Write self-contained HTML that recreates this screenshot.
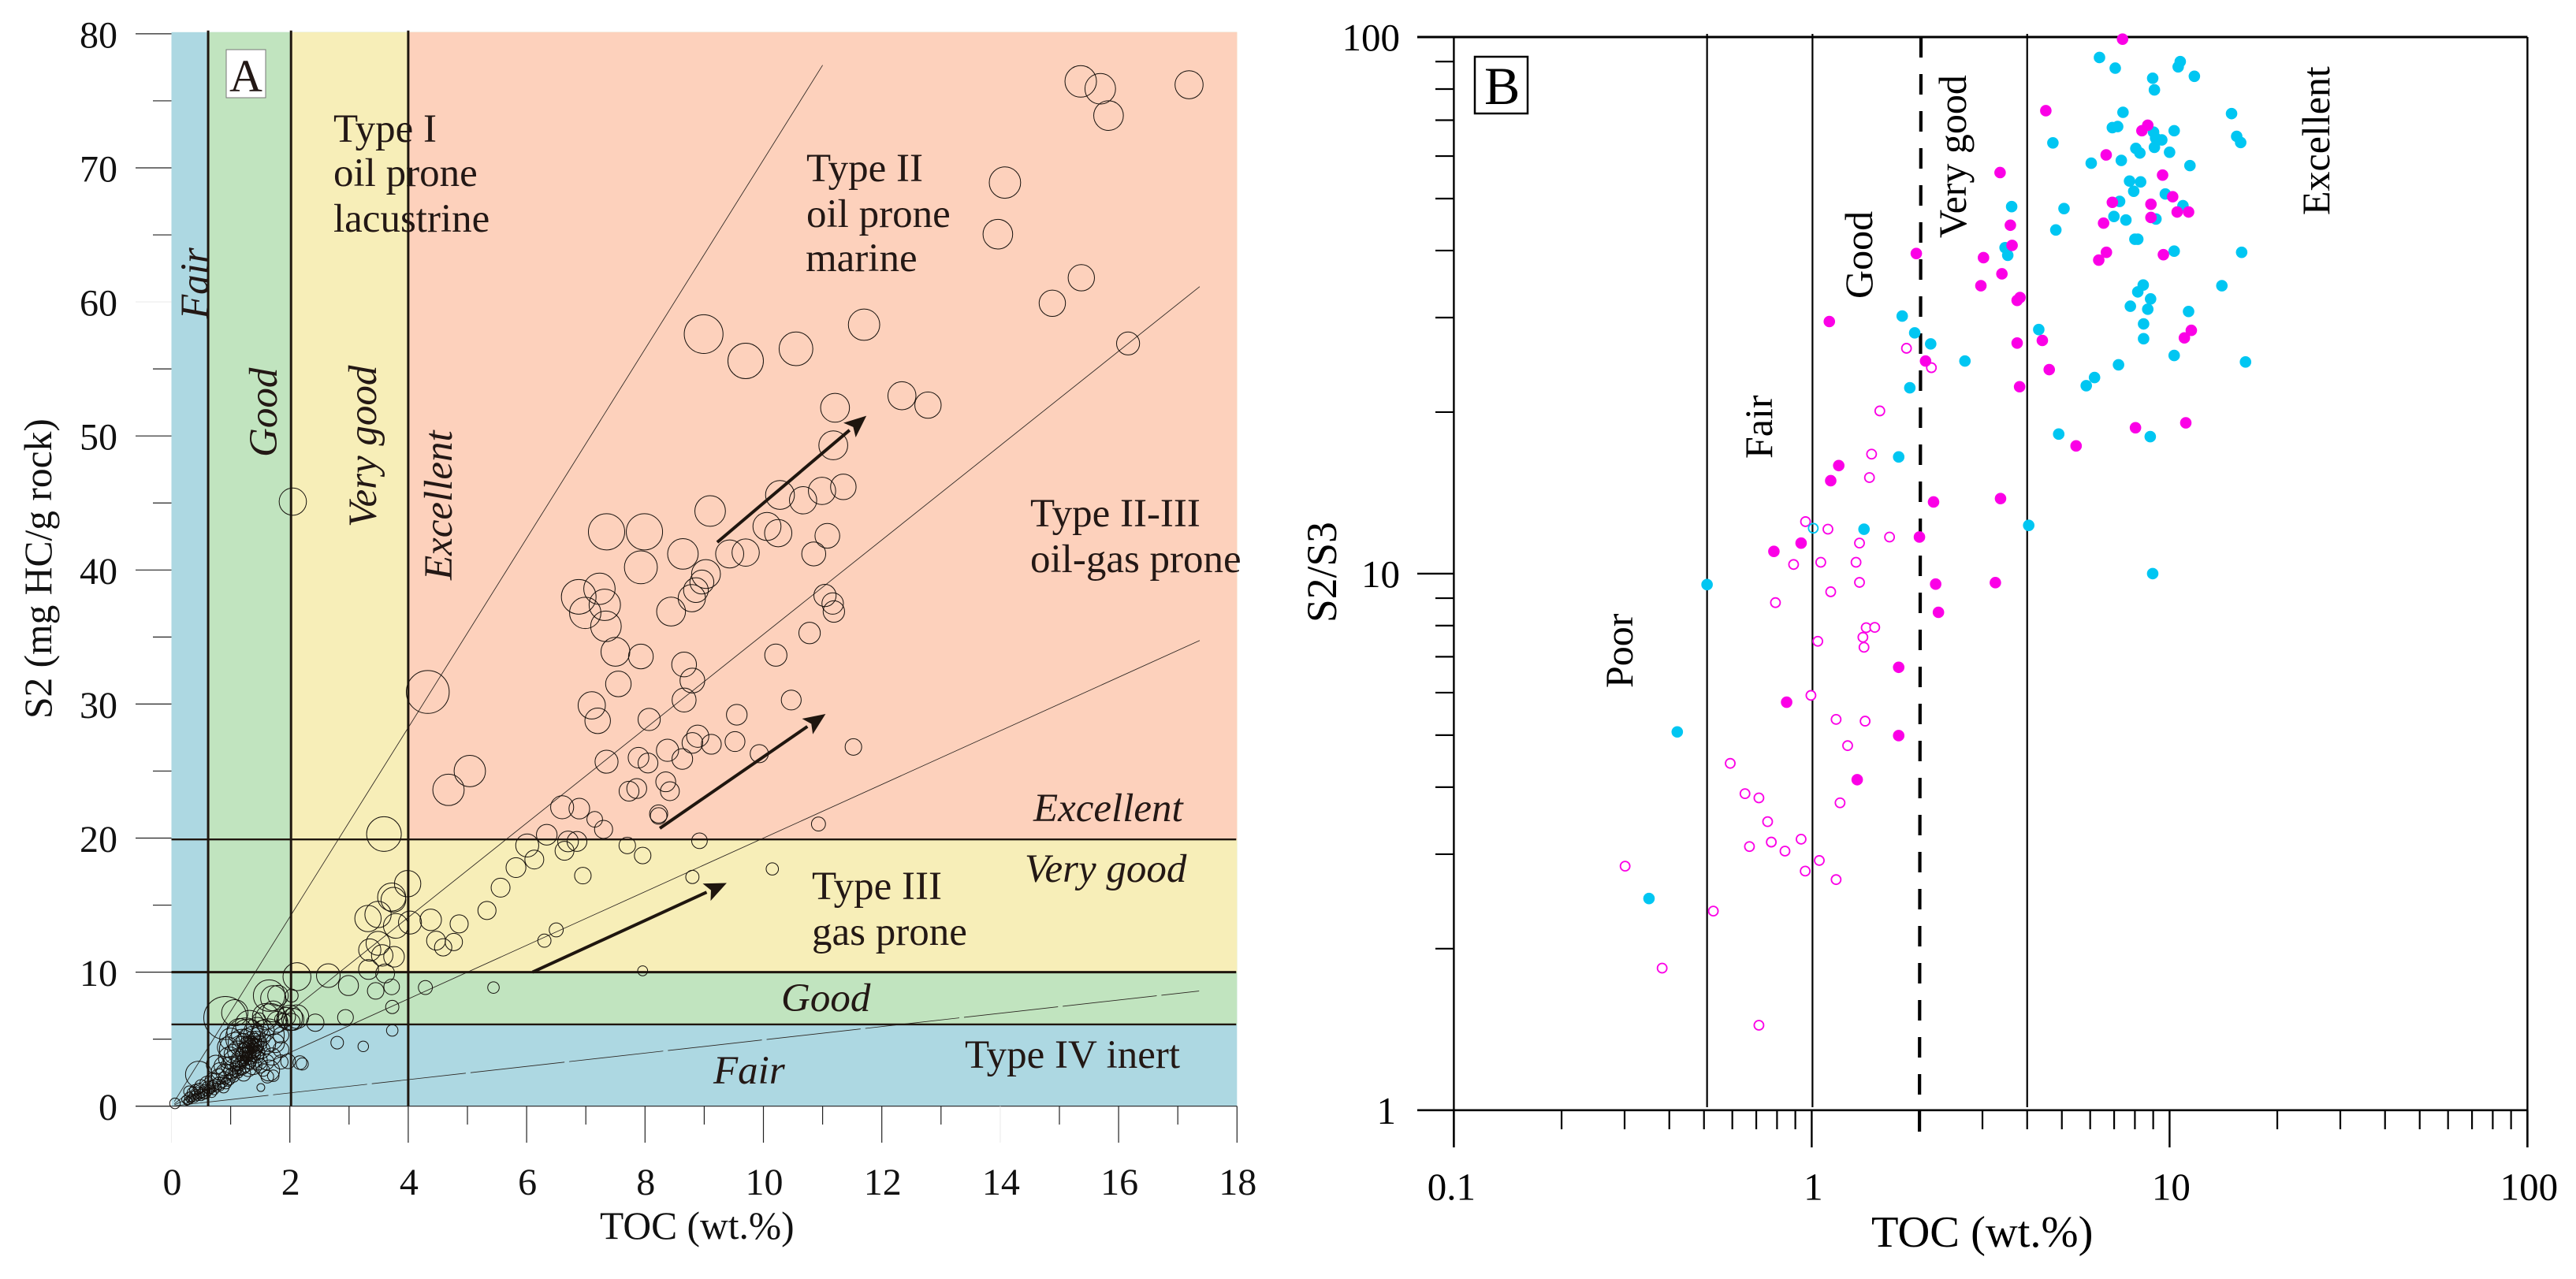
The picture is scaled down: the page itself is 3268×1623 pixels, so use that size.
<!DOCTYPE html>
<html lang="en">
<head>
<meta charset="utf-8">
<title>TOC vs S2 and S2/S3 source rock plots</title>
<style>
html,body{margin:0;padding:0;background:#fff;}
svg{display:block;font-family:"Liberation Serif",serif;}
.ink{fill:#231815;}
.tick{font-size:48px;fill:#111;}
.region{font-size:51px;fill:#231815;}
.ital{font-size:51px;font-style:italic;fill:#231815;}
.blab{font-size:50px;fill:#000;}
</style>
</head>
<body>
<svg id="chart" xmlns="http://www.w3.org/2000/svg" width="3268" height="1623" viewBox="0 0 3268 1623">
  <rect x="0" y="0" width="3268" height="1623" fill="#fff"/>
  <g id="panelA">
    <g id="bandsA"></g>
    <g id="kerogenA"></g>
    <g id="gridA"></g>
    <g id="axisA"></g>
    <g id="circlesA"></g>
    <g id="arrowsA"></g>
    <rect x="287" y="63" width="50" height="61" fill="#fff" stroke="#777" stroke-width="1"/>
    <text x="312" y="116" font-size="58" text-anchor="middle" class="ink">A</text>

    <text x="761" y="1572" font-size="49.5" fill="#111">TOC (wt.%)</text>
    <text transform="translate(65,912) rotate(-90)" font-size="49.5" fill="#111">S2 (mg HC/g rock)</text>

    <text class="region" x="423" y="180">Type I</text>
    <text class="region" x="423" y="236">oil prone</text>
    <text class="region" x="423" y="294">lacustrine</text>
    <text class="region" x="1023" y="230">Type II</text>
    <text class="region" x="1023" y="288">oil prone</text>
    <text class="region" x="1022" y="344">marine</text>
    <text class="region" x="1307" y="668">Type II-III</text>
    <text class="region" x="1307" y="726">oil-gas prone</text>
    <text class="region" x="1030" y="1141">Type III</text>
    <text class="region" x="1030" y="1199">gas prone</text>
    <text class="region" x="1224" y="1355">Type IV inert</text>

    <text class="ital" x="1311" y="1042">Excellent</text>
    <text class="ital" x="1300" y="1119">Very good</text>
    <text class="ital" x="991" y="1283">Good</text>
    <text class="ital" x="905" y="1375">Fair</text>
    <text class="ital" transform="translate(264,405) rotate(-90)">Fair</text>
    <text class="ital" transform="translate(351,580) rotate(-90)">Good</text>
    <text class="ital" transform="translate(477,669) rotate(-90)">Very good</text>
    <text class="ital" transform="translate(573,736) rotate(-90)">Excellent</text>
  </g>

  <g id="panelB">
    <g id="axisB"></g>
    <g id="pointsB"></g>
    <rect x="1871" y="72" width="67" height="72" fill="#fff" stroke="#000" stroke-width="2.5"/>
    <text x="1883" y="132" font-size="68" fill="#000">B</text>
    <text x="2374" y="1582" font-size="56.5" fill="#000">TOC (wt.%)</text>
    <text transform="translate(1695,790) rotate(-90)" font-size="53.5" fill="#000">S2/S3</text>
    <text class="blab" transform="translate(2071,873) rotate(-90)">Poor</text>
    <text class="blab" transform="translate(2248,582) rotate(-90)">Fair</text>
    <text class="blab" transform="translate(2375,379) rotate(-90)">Good</text>
    <text class="blab" transform="translate(2494,302) rotate(-90)">Very good</text>
    <text class="blab" transform="translate(2955,273) rotate(-90)">Excellent</text>
  </g>
</svg>
<script>
/* ---------- Panel A data ---------- */
const tocA = [
15.36,15.69,15.83,17.19,14.08,13.96,15.37,14.88,16.16,8.99,
9.70,10.55,11.70,12.34,12.78,11.21,11.18,9.10,10.28,10.67,
10.99,11.35,10.06,10.25,11.08,10.85,8.64,9.43,9.70,9.03,
8.96,8.86,8.79,8.44,11.04,11.17,11.19,10.78,2.05,7.35,
7.99,7.93,6.88,7.23,7.32,6.99,7.34,4.33,7.50,7.93,
7.55,7.10,7.20,5.04,4.68,8.07,7.35,7.89,8.05,7.73,
7.86,3.59,6.60,6.89,7.15,7.30,6.34,6.01,6.70,6.85,
6.64,6.13,5.82,5.56,5.33,6.95,7.70,7.96,3.99,3.72,
3.75,3.49,3.32,3.79,4.03,4.38,4.86,4.47,4.77,4.59,
3.49,3.35,3.56,3.76,3.33,3.61,3.45,3.72,3.73,3.73,
4.29,5.44,6.50,6.30,7.96,3.24,2.80,2.94,2.43,2.99,
2.65,2.12,0.91,1.07,1.65,1.72,1.80,2.00,2.05,2.12,
2.03,1.94,1.90,1.85,1.79,1.68,1.59,1.72,1.48,1.85,
2.03,2.17,2.21,1.97,1.85,1.72,1.65,1.51,0.46,1.10,
1.19,1.28,1.25,1.37,1.63,1.32,8.66,8.80,8.66,9.55,
10.47,10.21,8.89,8.80,9.12,9.52,9.93,8.38,8.63,8.35,
8.42,8.23,8.23,11.52,10.93,8.92,8.80,10.15,0.06,
1.30,1.35,1.40,1.25,1.32,1.38,1.44,1.28,1.20,1.36,
1.42,1.33,1.26,1.18,1.30,1.22,1.40,1.46,1.34,1.29,
1.24,1.37,1.41,1.48,1.15,1.10,1.20,1.25,1.14,1.08,
1.02,1.12,1.05,0.98,1.00,1.16,1.22,1.30,1.38,1.46,
0.95,0.90,0.92,0.86,0.82,0.88,0.80,0.76,0.74,0.72,
0.70,0.66,0.68,0.64,0.62,0.60,0.58,0.56,0.54,0.52,
0.50,0.48,0.46,0.44,0.42,0.40,0.38,0.36,0.34,0.32,
0.30,0.28,0.26,0.24,0.30,0.40,0.50,0.60,0.70,0.80,
0.90,1.00,1.50,1.60,1.55,1.62,1.70,1.75,1.85,1.45,
1.55,1.15,1.00,0.95,1.05,1.60,1.50,0.75,
1.22,1.27,1.31,1.36,1.39,1.43,1.33,1.26,1.19,1.12,
1.45,1.52,1.12,1.05,0.98,0.88,0.82,1.28,1.35,1.20];
const s2A = [
76.45,75.9,73.9,76.2,68.9,65.05,61.8,59.9,56.9,57.6,
55.6,56.5,58.3,53.0,52.3,52.1,49.3,44.4,45.6,45.2,
45.9,46.2,43.25,42.75,42.55,41.2,41.2,41.2,41.3,39.7,
39.1,38.5,37.9,36.9,38.1,37.5,36.9,35.3,45.1,42.85,
42.85,40.2,38.0,38.6,37.4,36.8,35.8,30.9,33.9,33.55,
31.5,29.9,28.75,25.0,23.6,28.85,25.7,26.0,25.6,23.5,
23.7,20.3,22.3,22.2,21.4,20.65,20.25,19.45,19.75,19.75,
19.05,18.4,17.8,16.3,14.6,17.2,19.45,18.7,16.6,15.6,
15.4,14.3,14.0,13.45,13.7,13.9,13.6,12.35,12.25,11.85,
12.15,11.65,11.25,11.15,10.2,9.9,8.6,8.9,7.4,5.65,
8.85,8.85,13.15,12.35,10.1,4.46,4.74,6.62,6.23,9.0,
9.74,9.66,6.58,6.97,8.25,8.05,8.25,6.58,6.48,6.68,
6.29,6.68,6.38,6.48,6.29,6.48,6.68,7.07,6.48,5.3,
8.25,3.25,3.15,3.35,4.23,2.27,2.66,1.39,2.37,4.23,
4.72,5.3,5.11,4.33,5.3,6.09,32.95,31.75,30.3,29.2,
30.3,33.65,27.6,27.1,27.0,27.2,26.3,26.55,25.9,24.2,
23.5,21.8,21.65,26.8,21.05,19.8,17.1,17.7,0.21,
4.4,4.7,4.9,4.2,3.9,4.1,4.5,4.6,3.9,5.0,
4.2,3.6,3.5,3.3,3.3,3.6,3.8,4.0,4.3,4.0,
4.4,4.5,4.6,4.7,3.1,2.9,2.9,3.0,3.5,2.6,
2.4,2.5,2.2,2.0,2.6,2.7,2.4,2.8,3.0,3.4,
1.9,2.1,1.7,1.8,1.5,1.4,1.7,1.4,1.6,1.2,
1.5,1.3,1.0,1.2,1.4,1.1,0.9,1.2,0.8,1.0,
0.7,0.9,1.3,0.7,0.9,0.6,0.8,1.0,0.6,0.5,
0.7,0.4,0.3,0.5,1.1,1.2,1.5,1.7,1.9,2.2,
2.5,3.0,3.0,3.3,2.7,2.2,3.7,4.7,3.3,5.8,
5.6,5.6,5.0,4.4,3.9,4.6,5.2,3.1,
4.9,5.2,4.8,5.3,4.4,5.0,3.2,3.9,4.5,4.1,
3.7,4.2,3.2,3.4,3.6,3.0,2.6,3.7,3.4,3.4];
const bubbleA = [
20,19.4,18.8,17.8,19.9,18.8,16.7,16.7,14.6,24.6,
22.5,21.4,19.9,17.8,16.7,18.3,18.3,19.4,18.3,17.3,
17.3,16.2,17.8,17.3,15.7,15.2,19.4,17.8,17.3,18.3,
15.2,15.7,17.3,18.3,14.1,13.6,13.6,13.6,17.3,23,
23,20.9,22,19.9,19.9,19.9,19.4,27.2,18.3,15.7,
16.2,17.3,16.2,19.9,19.9,14.1,14.6,13.1,12.6,12.6,
12.6,22,14.6,13.1,9.9,11.5,13.1,14.6,13.1,12.6,
12,12,12.6,12,11.5,10.5,10.5,10.5,16.7,17.8,
15.7,16.7,16.7,15.7,14.6,13.6,11.5,12,11,11,
15.2,14.1,13.6,13.1,12.6,12,10.5,9.9,8.4,7.3,
8.9,7.3,8.9,8.4,6.3,6.7,8,10,11,12.7,
15,17.7,27.3,16.7,20,16,13,16,14,15,
10.7,11.7,9.3,8,13.3,20,16.7,13.3,8.3,10,
8.3,8.7,7.7,9.3,10,7.3,13.3,5,16.7,21.7,
17.3,20,25,12.7,20.7,18,15.7,15.7,15.2,13.1,
12.6,14.1,14.1,13.1,12.6,12.6,11.5,14.1,13.1,12.6,
12,11.5,10.5,10.5,8.9,9.9,8.4,7.8,6.7,
8,9,9,9,8,8,9,10,9,10,
8,8,8,8,9,7,8,9,7,7,
7,7,8,10,8,8,9,8,10,7,
8,7,7,7,9,7,9,10,11,12,
7,8,7,7,6,7,8,6,7,6,
7,6,6,6,8,6,6,7,5,6,
5,6,7,5,6,5,6,7,5,5,
6,5,4,5,7,7,8,9,10,10,
11,12,9,10,8,8,11,12,9,14,
14,16,14,13,12,12,13,12,
9,10,8,11,7,10,7,8,12,13,
8,11,9,13,14,12,11,7,7,7];
const xTicksA = [0,2,4,6,8,10,12,14,16,18];
const xMinorA = [1,3,5,7,9,11,13,15,17];
const yTicksA = [0,10,20,30,40,50,60,70,80];
const yMinorA = [5,15,25,35,45,55,65,75];
const faintTicksA = [60];
const faintXTicksA = [0,14];
const tocClassesA = [0.62,2.02,4.0];
const s2ClassesA = [6.1,10,19.9];
const kerogenSlopesA = [7.06,3.52,2.0,0.495];
const kerogenEndsA = [11.0,17.37,17.37,17.36];
const arrowStartTocA = [9.22,8.25,6.1];
const arrowStartS2A = [42.07,20.73,10.0];
const arrowEndTocA = [11.74,11.05,9.38];
const arrowEndS2A = [51.5,29.26,16.65];

/* ---------- Panel B data ---------- */
const tocCyan = [
6.37,7.05,8.97,9.07,10.57,10.71,11.73,7.41,14.9,15.4,15.8,4.72,6.92,7.16,10.3,9.02,9.14,9.51,9.07,8.05,8.26,10.0,
6.04,7.33,11.4,7.73,8.30,7.94,9.73,7.25,10.9,5.07,6.99,7.55,9.16,4.81,8.0,8.15,10.3,15.9,3.62,3.47,3.53,14.0,
8.44,8.15,8.85,8.69,7.77,11.3,8.46,8.46,4.31,10.3,16.3,2.68,7.20,6.17,5.85,4.90,8.83,4.04,8.97,
1.79,1.94,2.15,1.88,1.75,1.40,0.51,0.421,0.351];
const ratioCyan = [
91.6,87.5,83.8,79.7,88.0,90.0,84.5,72.4,72.0,65.3,63.6,63.5,67.8,68.1,66.9,66.5,64.8,64.3,62.3,62.0,60.8,61.0,
58.2,58.9,57.6,53.9,53.7,51.6,51.0,49.4,48.5,47.9,46.3,45.6,45.8,43.7,42.0,42.0,39.9,39.7,48.3,40.5,39.2,34.4,
34.5,33.5,32.5,31.1,31.5,30.8,29.2,27.4,28.5,25.5,24.8,24.9,24.5,23.2,22.4,18.2,18.0,12.3,10.0,
30.2,28.1,26.8,22.2,16.5,12.1,9.54,5.07,2.48];
const tocMagenta = [
7.39,4.51,8.37,8.69,6.65,3.36,9.56,10.2,6.92,8.87,10.5,11.3,8.87,6.54,3.59,3.63,3.02,3.40,2.97,6.66,6.34,9.61,
3.82,3.75,11.5,11.0,3.75,4.41,4.61,3.81,11.1,8.03,5.48,3.37,2.19,3.26,2.22,2.26,
1.96,1.12,2.08,1.19,1.13,2.00,0.934,0.784,1.75,0.851,1.75,1.34];
const ratioMagenta = [
99.1,72.9,66.9,68.5,60.3,55.9,55.3,50.4,49.2,48.8,47.2,47.2,46.1,45.0,44.6,40.9,38.8,36.2,34.4,39.7,38.4,39.3,
32.7,32.3,28.4,27.5,26.9,27.2,24.0,22.3,19.1,18.7,17.3,13.8,13.6,9.62,9.56,8.47,
39.5,29.5,24.9,15.9,14.9,11.7,11.4,11.0,6.69,5.76,4.99,4.13];
const tocOpen = [
1.84,2.16,1.55,1.47,1.45,0.961,1.11,1.65,1.36,0.890,1.06,1.33,1.36,1.13,0.792,1.42,1.50,1.39,1.04,1.40,
0.995,1.17,1.41,1.26,0.592,0.651,0.712,1.20,0.753,0.771,0.670,0.842,0.934,1.05,0.959,1.17,0.301,0.531,0.382,0.712];
const ratioOpen = [
26.3,24.2,20.1,16.7,15.1,12.5,12.1,11.7,11.4,10.4,10.5,10.5,9.63,9.25,8.83,7.93,7.94,7.61,7.48,7.29,
5.93,5.35,5.31,4.78,4.43,3.89,3.82,3.74,3.45,3.16,3.10,3.04,3.20,2.92,2.79,2.69,2.85,2.35,1.84,1.44];
const tocOpenCyan = [1.01];
const ratioOpenCyan = [12.15];
const xDecadesB = [0.1,1,10,100];
const yDecadesB = [1,10,100];
const minorMultiples = [2,3,4,5,6,7,8,9];
const xTickLabelsB = ["0.1","1","10","100"];
const yTickLabelsB = ["1","10","100"];
const tocClassesB = [0.51,1.005,4.0];

/* ---------- Scales ---------- */
const xA = v => 217.5 + 75.1 * v;
const yA = v => 1403.7 - 17.01 * v;
const rA = v => v;
const xB = v => 2298.4 + 454 * Math.log10(v);
const yB = v => 1408.8 - 680.9 * Math.log10(v);

const NS = 'http://www.w3.org/2000/svg';
function mk(parent, tag, attrs, txt) {
  const el = document.createElementNS(NS, tag);
  for (const k in attrs) el.setAttribute(k, attrs[k]);
  if (txt !== undefined) el.textContent = txt;
  parent.appendChild(el);
  return el;
}
const $ = id => document.getElementById(id);
const INK = '#1f160f';
let el;

/* ---------- Panel A bands ---------- */
const bandColours = ['#add8e2','#c1e4bf','#f7eeb8','#fdd1bc'];
const topA = 40.8, rightA = xA(18);
el = mk($('bandsA'), 'rect', {x:xA(0), y:topA, width:rightA-xA(0), height:yA(0)-topA, fill:bandColours[0]});


tocClassesA.forEach((t, i) => {
  const b = mk($('bandsA'), 'rect', {x:xA(t), y:topA, width:rightA-xA(t), height:yA(s2ClassesA[i])-topA, fill:bandColours[i+1]});
  
  
});

/* ---------- Panel A kerogen lines ---------- */
kerogenSlopesA.forEach((s, i) => {
  const e = kerogenEndsA[i];
  const attrs = {x1:xA(0.05), y1:yA(0.05*s), x2:xA(e), y2:yA(e*s), stroke:'#2a2420', 'stroke-width':0.85, fill:'none'};
  if (i === 3) attrs['stroke-dasharray'] = '120 6';
  const l = mk($('kerogenA'), 'line', attrs);
  
  
});

/* ---------- Panel A threshold lines ---------- */
tocClassesA.forEach((t, i) => {
  const l = mk($('gridA'), 'line', {x1:xA(t), y1:topA-2, x2:xA(t), y2:yA(0), stroke:INK, 'stroke-width':3});
  
  
});
s2ClassesA.forEach((v, i) => {
  const l = mk($('gridA'), 'line', {x1:xA(0), y1:yA(v), x2:rightA-1, y2:yA(v), stroke:INK, 'stroke-width':i === 1 ? 3 : 2.4});
  
  
});

/* ---------- Panel A axes ---------- */
el = mk($('axisA'), 'line', {x1:172, y1:yA(0), x2:rightA, y2:yA(0), stroke:'#222', 'stroke-width':1.2});


yTicksA.forEach(v => {
  const faint = faintTicksA.includes(v);
  const t = mk($('axisA'), 'line', {x1:172, y1:yA(v), x2:xA(0), y2:yA(v), stroke:faint ? '#eeeeee' : '#222', 'stroke-width':1.2});
  
  
  const lab = mk($('axisA'), 'text', {x:149, y:yA(v)+17.5, 'text-anchor':'end', class:'tick'}, String(v));
  
  
});
yMinorA.forEach(v => {
  const t = mk($('axisA'), 'line', {x1:194, y1:yA(v), x2:xA(0), y2:yA(v), stroke:'#222', 'stroke-width':1.2});
  
  
});
xTicksA.forEach(v => {
  const faint = faintXTicksA.includes(v);
  const t = mk($('axisA'), 'line', {x1:xA(v), y1:yA(0), x2:xA(v), y2:1450, stroke:faint ? '#eeeeee' : '#222', 'stroke-width':1.2});
  
  
  const lab = mk($('axisA'), 'text', {x:xA(v)+1, y:1516, 'text-anchor':'middle', class:'tick'}, String(v));
  
  
});
xMinorA.forEach(v => {
  const t = mk($('axisA'), 'line', {x1:xA(v), y1:yA(0), x2:xA(v), y2:1427, stroke:'#222', 'stroke-width':1.2});
  
  
});

/* ---------- Panel A samples ---------- */
tocA.forEach((t, i) => {
  const c = mk($('circlesA'), 'circle', {cx:xA(t), cy:yA(s2A[i]), r:rA(bubbleA[i]), fill:'none', stroke:'#15100c', 'stroke-width':1});
  
  
});

/* ---------- Panel A arrows ---------- */
arrowStartTocA.forEach((t, i) => {
  const x1 = xA(t), y1 = yA(arrowStartS2A[i]), x2 = xA(arrowEndTocA[i]), y2 = yA(arrowEndS2A[i]);
  const len = Math.hypot(x2-x1, y2-y1), ux = (x2-x1)/len, uy = (y2-y1)/len;
  const bx = x2 - ux*28, by = y2 - uy*28;
  const l = mk($('arrowsA'), 'line', {x1:x1, y1:y1, x2:bx, y2:by, stroke:INK, 'stroke-width':4});
  
  
  const pts = [x2+','+y2, (bx-uy*12)+','+(by+ux*12), (x2-ux*22)+','+(y2-uy*22), (bx+uy*12)+','+(by-ux*12)].join(' ');
  const h = mk($('arrowsA'), 'polygon', {points:pts, fill:INK});
  
  
});

/* ---------- Panel B axes ---------- */
const frameB = [
  {x1:1798, y1:yB(100), x2:xB(100), y2:yB(100), w:3, n:'top-frame-b'},
  {x1:1798, y1:yB(1), x2:xB(100), y2:yB(1), w:2.6, n:'x-axis-line-b'},
  {x1:xB(0.1), y1:yB(100), x2:xB(0.1), y2:1456, w:2.4, n:'y-axis-line-b'},
  {x1:xB(100), y1:yB(100), x2:xB(100), y2:1456, w:2.4, n:'right-frame-b'}
];
frameB.forEach(f => {
  const l = mk($('axisB'), 'line', {x1:f.x1, y1:f.y1, x2:f.x2, y2:f.y2, stroke:'#000', 'stroke-width':f.w});
  
  
});
yDecadesB.forEach((v, i) => {
  const t = mk($('axisB'), 'line', {x1:1798, y1:yB(v), x2:xB(0.1), y2:yB(v), stroke:'#000', 'stroke-width':2.4});
  
  
  const lab = mk($('axisB'), 'text', {x:v === 1 ? 1771 : 1776, y:yB(v)+17, 'text-anchor':'end', 'font-size':49, fill:'#000'}, yTickLabelsB[i]);
  
  
  if (v < 100) minorMultiples.forEach(m => {
    const mt = mk($('axisB'), 'line', {x1:1821, y1:yB(v*m), x2:xB(0.1), y2:yB(v*m), stroke:'#000', 'stroke-width':2.2});
    
    
  });
});
xDecadesB.forEach((v, i) => {
  const t = mk($('axisB'), 'line', {x1:xB(v), y1:yB(1), x2:xB(v), y2:1456, stroke:'#000', 'stroke-width':2.4});
  
  
  const lab = mk($('axisB'), 'text', {x:xB(v)+(i === 0 ? -3 : 2), y:1522.5, 'text-anchor':'middle', 'font-size':49, fill:'#000'}, xTickLabelsB[i]);
  
  
  if (v < 100) minorMultiples.forEach(m => {
    const mt = mk($('axisB'), 'line', {x1:xB(v*m), y1:yB(1), x2:xB(v*m), y2:1433, stroke:'#000', 'stroke-width':2.2});
    
    
  });
});
tocClassesB.forEach(t => {
  const l = mk($('axisB'), 'line', {x1:xB(t), y1:43, x2:xB(t), y2:1405, stroke:'#000', 'stroke-width':2.2});
  
  
});
el = mk($('axisB'), 'line', {x1:xB(2.02), y1:yB(100), x2:xB(2.0), y2:1446, stroke:'#000', 'stroke-width':4.2, 'stroke-dasharray':'26 21'});



/* ---------- Panel B samples ---------- */
tocOpen.forEach((t, i) => {
  const c = mk($('pointsB'), 'circle', {cx:xB(t), cy:yB(ratioOpen[i]), r:6, fill:'#fff', stroke:'#fb00e6', 'stroke-width':1.8});
  
  
});
tocOpenCyan.forEach((t, i) => {
  const c = mk($('pointsB'), 'circle', {cx:xB(t), cy:yB(ratioOpenCyan[i]), r:6, fill:'none', stroke:'#00c6f2', 'stroke-width':1.8});
  
  
});
tocCyan.forEach((t, i) => {
  const c = mk($('pointsB'), 'circle', {cx:xB(t), cy:yB(ratioCyan[i]), r:7.3, fill:'#00c6f2'});
  
  
});
tocMagenta.forEach((t, i) => {
  const c = mk($('pointsB'), 'circle', {cx:xB(t), cy:yB(ratioMagenta[i]), r:7.3, fill:'#fb00e6'});
  
  
});
</script>
</body>
</html>
